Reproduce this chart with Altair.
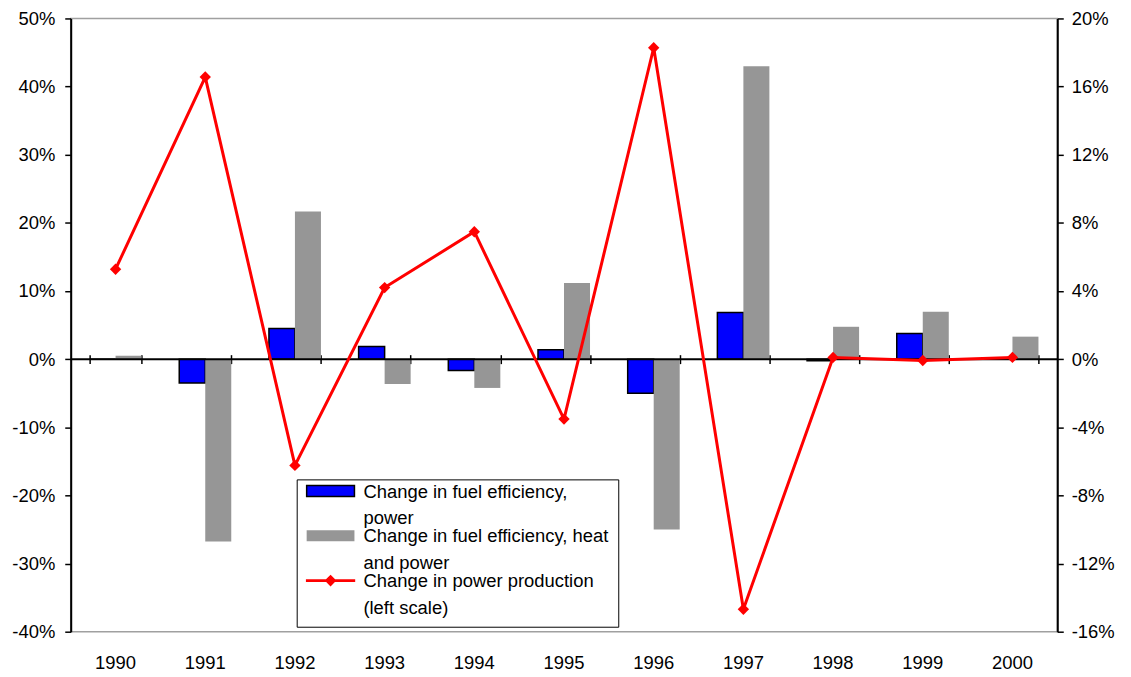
import altair as alt
import pandas as pd

# ---------------- data ----------------
years = ["1990", "1991", "1992", "1993", "1994", "1995", "1996", "1997", "1998", "1999", "2000"]

# right scale (bars)
eff_power = [0.0, -0.014, 0.018, 0.0074, -0.0066, 0.0055, -0.020, 0.0274, -0.001, 0.015, 0.0]
eff_heat_power = [0.002, -0.107, 0.0866, -0.0146, -0.0169, 0.0447, -0.100, 0.172, 0.019, 0.0278, 0.0132]

# left scale (line)
power_prod = [0.132, 0.414, -0.156, 0.105, 0.187, -0.088, 0.457, -0.367, 0.0025, -0.002, 0.0025]

series_names = [
    "Change in fuel efficiency, power",
    "Change in fuel efficiency, heat and power",
    "Change in power production (left scale)",
]
legend_lines = [
    ["Change in fuel efficiency,", "power"],
    ["Change in fuel efficiency, heat", "and power"],
    ["Change in power production", "(left scale)"],
]
series_fill = ["#0000ff", "#969696", "#ff0000"]
series_stroke = ["#000000", "transparent", "#ff0000"]

left_ticks = [-0.4, -0.3, -0.2, -0.1, 0.0, 0.1, 0.2, 0.3, 0.4, 0.5]
right_ticks = [-0.16, -0.12, -0.08, -0.04, 0.0, 0.04, 0.08, 0.12, 0.16, 0.20]
left_domain = [-0.4, 0.5]
right_domain = [-0.16, 0.20]

# ---------------- tables ----------------
bar_df = pd.DataFrame({
    "year": years * 2,
    "series": [series_names[0]] * len(years) + [series_names[1]] * len(years),
    "value": eff_power + eff_heat_power,
})
line_df = pd.DataFrame({"year": years, "value": power_prod})
zero_df = pd.DataFrame({"level": [0.0]})
legend_df = pd.DataFrame({"series": series_names})

# ---------------- styling ----------------
FONT = "Liberation Sans"
FS = 18.5
W, H = 991, 616
zero_px = H * left_domain[1] / (left_domain[1] - left_domain[0])

def arr(lines):
    return "[" + ",".join("'" + s + "'" for s in lines) + "]"

label_expr = (
    f"datum.label == '{series_names[0]}' ? {arr(legend_lines[0])} : "
    f"datum.label == '{series_names[1]}' ? {arr(legend_lines[1])} : {arr(legend_lines[2])}"
)
minus_fix = "replace(datum.label, '\u2212', '-')"

# legend symbols: symbolSize 4 -> path units are pixels; symbol centre sits on the first label line
rect_path = "M-8.25,-12.1H39.75V-1.1H-8.25Z"
line_path = "M-8.25,-7.3H39.75V-5.9H-8.25Z M15.75,-11.4L20.55,-6.6L15.75,-1.8L10.95,-6.6Z"

leg = alt.Legend(
    title=None,
    orient="none",
    legendX=227,
    legendY=463,
    padding=9,
    strokeColor="black",
    fillColor="white",
    symbolSize=4,
    symbolStrokeWidth=1.5,
    labelFont=FONT,
    labelFontSize=FS,
    labelColor="black",
    labelBaseline="alphabetic",
    labelOffset=39.5,
    labelLimit=500,
    rowPadding=-1,
    labelExpr=label_expr,
)

fill_scale = alt.Scale(domain=series_names, range=series_fill)
stroke_scale = alt.Scale(domain=series_names, range=series_stroke)
shape_scale = alt.Scale(domain=series_names, range=[rect_path, rect_path, line_path])

xscale = alt.Scale(domain=years, paddingInner=0.42, paddingOuter=0.21)
yleft = alt.Scale(domain=left_domain, nice=False, zero=False)
yright = alt.Scale(domain=right_domain, nice=False, zero=False)

axis_common = dict(
    labelFont=FONT, labelFontSize=FS, labelColor="black", grid=False, title=None,
    domainColor="black", domainWidth=2, tickColor="black", tickWidth=1.5,
    labelExpr=minus_fix,
)

# ---------------- layers ----------------
bars = alt.Chart(bar_df).mark_bar(strokeWidth=1.5).encode(
    x=alt.X("year:N", scale=xscale, axis=alt.Axis(
        orient="bottom", domain=False, ticks=False, tickSize=0, labelPadding=22,
        labelAngle=0, labelFont=FONT, labelFontSize=FS, labelColor="black", title=None, grid=False)),
    xOffset=alt.XOffset("series:N", scale=alt.Scale(domain=series_names[:2], paddingInner=0, paddingOuter=0)),
    y=alt.Y("value:Q", scale=yright, axis=alt.Axis(
        orient="right", values=right_ticks, format=".0%", tickSize=6, labelPadding=8, **axis_common)),
    fill=alt.Fill("series:N", scale=fill_scale, legend=leg),
    stroke=alt.Stroke("series:N", scale=stroke_scale, legend=leg),
)

zero_line = alt.Chart(zero_df).mark_rule(color="black", strokeWidth=2).encode(
    y=alt.Y("level:Q", scale=yleft, axis=None),
)

line = alt.Chart(line_df).mark_line(color="#ff0000", strokeWidth=3).encode(
    x=alt.X("year:N", scale=xscale, axis=alt.Axis(
        orient="top", offset=-(zero_px + 4.5), labels=False, domain=False, ticks=True,
        tickSize=9, tickBand="extent", tickColor="black", tickWidth=1.5, title=None, grid=False)),
    y=alt.Y("value:Q", scale=yleft, axis=alt.Axis(
        orient="left", values=left_ticks, format=".0%", tickSize=6, labelPadding=10, **axis_common)),
)

points = alt.Chart(line_df).mark_point(shape="diamond", filled=True, color="#ff0000", size=130, opacity=1).encode(
    x=alt.X("year:N", scale=xscale, axis=None),
    y=alt.Y("value:Q", scale=yleft, axis=None),
)

legend_layer = alt.Chart(legend_df).mark_point(filled=True, opacity=1).encode(
    fill=alt.Fill("series:N", scale=fill_scale, legend=leg),
    stroke=alt.Stroke("series:N", scale=stroke_scale, legend=leg),
    shape=alt.Shape("series:N", scale=shape_scale, legend=leg),
).transform_filter("false")

chart = alt.layer(bars, zero_line, line, points, legend_layer).resolve_scale(
    y="independent"
).resolve_axis(
    x="independent", y="independent"
).properties(
    width=W, height=H,
    autosize=alt.AutoSizeParams(type="none"),
    padding={"left": 63, "top": 9, "right": 66, "bottom": 43},
).configure(
    font=FONT,
    style={"guide-label": {"lineHeight": 27}},
).configure_view(
    stroke="#a0a0a0", strokeWidth=1.5,
)

chart.save("out.html", embed_options={"renderer": "svg", "actions": False})
